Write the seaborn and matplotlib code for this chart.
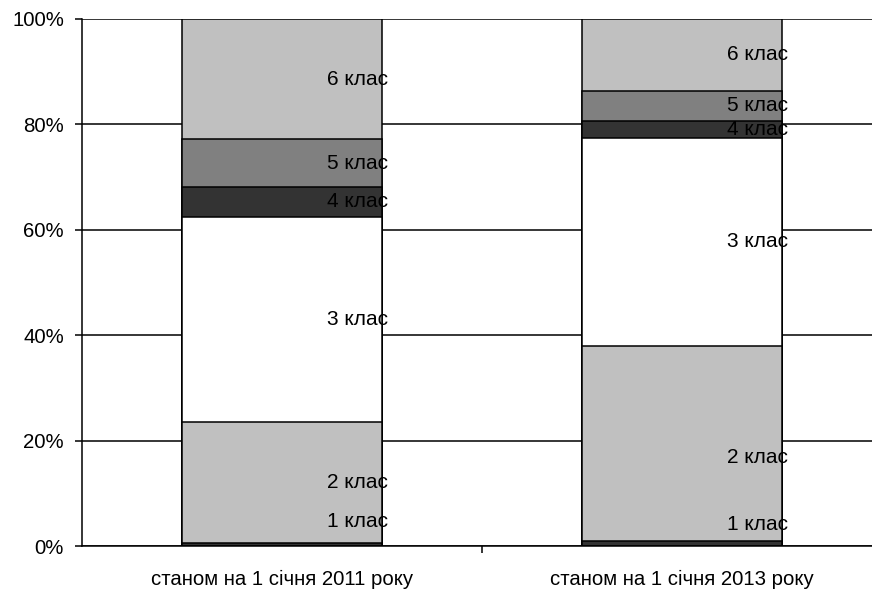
"""Stacked 100% bar chart: distribution by class, 2011 vs 2013."""

import matplotlib
matplotlib.use("Agg")
import matplotlib.pyplot as plt
import numpy as np
import pandas as pd
import seaborn as sns
from matplotlib.ticker import FuncFormatter, FixedLocator

sns.set_theme(style="white")
plt.rcParams["font.family"] = ["Liberation Sans", "DejaVu Sans"]

# Data (share of each class, %)
periods = ["станом на 1 січня 2011 року", "станом на 1 січня 2013 року"]
classes = ["1 клас", "2 клас", "3 клас", "4 клас", "5 клас", "6 клас"]
share_2011 = [0.5, 23.0, 39.0, 5.6, 9.1, 22.8]
share_2013 = [1.0, 37.0, 39.4, 3.2, 5.8, 13.6]

class_colors = ["#333333", "#c0c0c0", "#ffffff", "#333333", "#808080", "#c0c0c0"]

# manual label nudges (pixels, +up) for labels moved off their segment centre
label_nudge = {(0, "1 клас"): 23, (1, "1 клас"): 19, (1, "2 клас"): -14}

df = pd.DataFrame({
    "period": np.repeat(periods, len(classes)),
    "klas": classes * len(periods),
    "share": share_2011 + share_2013,
})
df["top"] = df.groupby("period", sort=False)["share"].cumsum()
df["bottom"] = df["top"] - df["share"]

fig = plt.figure(figsize=(8.72, 5.92), dpi=100)
ax = fig.add_axes([82 / 872, 46 / 592, 800 / 872, 527 / 592])

# draw cumulative bars from the top class down so each overlays the previous
for klas, color in reversed(list(zip(classes, class_colors))):
    sub = df[df["klas"] == klas]
    sns.barplot(
        data=sub, x="period", y="top", order=periods,
        color=color, saturation=1, width=0.5,
        edgecolor="black", linewidth=1.1, ax=ax, zorder=2,
    )

# segment labels
for i, period in enumerate(periods):
    for _, row in df[df["period"] == period].iterrows():
        yc = row["bottom"] + row["share"] / 2
        dy = label_nudge.get((i, row["klas"]), 0) * 0.72
        ax.annotate(
            row["klas"], (i + 0.1875, yc), xytext=(0, dy),
            textcoords="offset points", ha="center", va="center",
            fontsize=15, color="black", zorder=5, annotation_clip=False,
        )

ax.set_xlim(-0.5, 1.5)
ax.set_ylim(0, 100)
ax.set_yticks(np.arange(0, 101, 20))
ax.yaxis.set_major_formatter(FuncFormatter(lambda v, _: f"{v:.0f}%"))
ax.set_xticks([0, 1])
ax.set_xticklabels(periods)
ax.xaxis.set_minor_locator(FixedLocator([0.5]))
ax.set_xlabel("")
ax.set_ylabel("")

ax.yaxis.grid(True, color="black", linewidth=1.1)
ax.set_axisbelow(True)

for side in ["top", "right"]:
    ax.spines[side].set_visible(False)
for side in ["left", "bottom"]:
    ax.spines[side].set_color("black")
    ax.spines[side].set_linewidth(1.1)

ax.tick_params(axis="y", which="major", left=True, length=5, width=1.1,
               color="black", pad=8, labelsize=14.7, labelcolor="black")
ax.tick_params(axis="x", which="major", bottom=False, length=0, pad=17,
               labelsize=14.7, labelcolor="black")
ax.tick_params(axis="x", which="minor", bottom=True, length=5, width=1.1,
               color="black")

fig.savefig("out.png", dpi=100, facecolor="white")
